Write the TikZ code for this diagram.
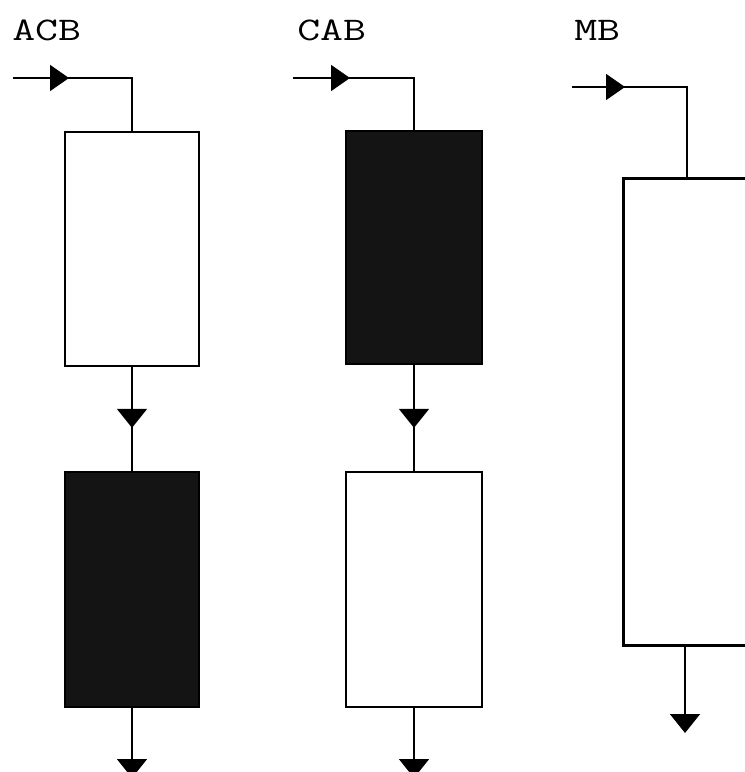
\documentclass[tikz,border=0pt]{standalone}
\usetikzlibrary{arrows.meta,decorations.markings,calc}
\tikzset{
  wbox/.style={draw=black, fill=white, line width=1.7pt, inner sep=0pt},
  bbox/.style={draw=black, fill=black!92, line width=1.7pt, inner sep=0pt},
  mbbox/.style={draw=black, fill=white, line width=3pt, inner sep=0pt},
  conn/.style={draw=black, line width=1.7pt},
  tipR/.style={decoration={markings, mark=at position #1 with {\arrow{Triangle[width=26pt,length=19pt]}}}, postaction={decorate}},
  tipD/.style={decoration={markings, mark=at position #1 with {\arrow{Triangle[width=30pt,length=19pt]}}}, postaction={decorate}},
  endD/.style={-{Triangle[width=30pt,length=19pt]}},
  lbl/.style={font=\ttfamily\fontsize{33}{33}\selectfont, anchor=base west, inner sep=0pt, xscale=1.35}
}
\begin{document}
\begin{tikzpicture}[x=1pt,y=-1pt]
\useasboundingbox (0,0) rectangle (745,772);
\clip (0,0) rectangle (745,772);
\fill[white] (0,0) rectangle (745,772);

% labels
\node[lbl] (lacb) at (12,40) {ACB};
\node[lbl] (lcab) at (297,40) {CAB};
\node[lbl] (lmb) at (574,40) {MB};

% ACB column
\node[wbox, minimum width=134pt, minimum height=234pt] (a1) at (132,249) {};
\node[bbox, minimum width=134pt, minimum height=235pt] (a2) at (132,589.5) {};
\coordinate (ain) at (13,78);
\coordinate (aout) at (132,778);
\draw[conn, tipR=56pt] (ain) -| (a1.north);
\draw[conn, tipD=61pt] (a1.south) -- (a2.north);
\draw[conn, endD] (a2.south) -- (aout);

% CAB column
\node[bbox, minimum width=136pt, minimum height=233pt] (c1) at (414,247.5) {};
\node[wbox, minimum width=136pt, minimum height=235pt] (c2) at (414,589.5) {};
\coordinate (cin) at (293,78);
\coordinate (cout) at (414,778);
\draw[conn, tipR=57pt] (cin) -| (c1.north);
\draw[conn, tipD=63pt] (c1.south) -- (c2.north);
\draw[conn, endD] (c2.south) -- (cout);

% MB column
\node[mbbox, minimum width=240pt, minimum height=467pt, anchor=north west] (m1) at (622,177) {};
\coordinate (min) at (572,87);
\coordinate (mtop) at (687,177);
\coordinate (mbot) at (685,644);
\coordinate (mout) at (685,733);
\draw[conn, tipR=53pt] (min) -| (mtop);
\draw[conn, endD] (mbot) -- (mout);
\end{tikzpicture}
\end{document}
